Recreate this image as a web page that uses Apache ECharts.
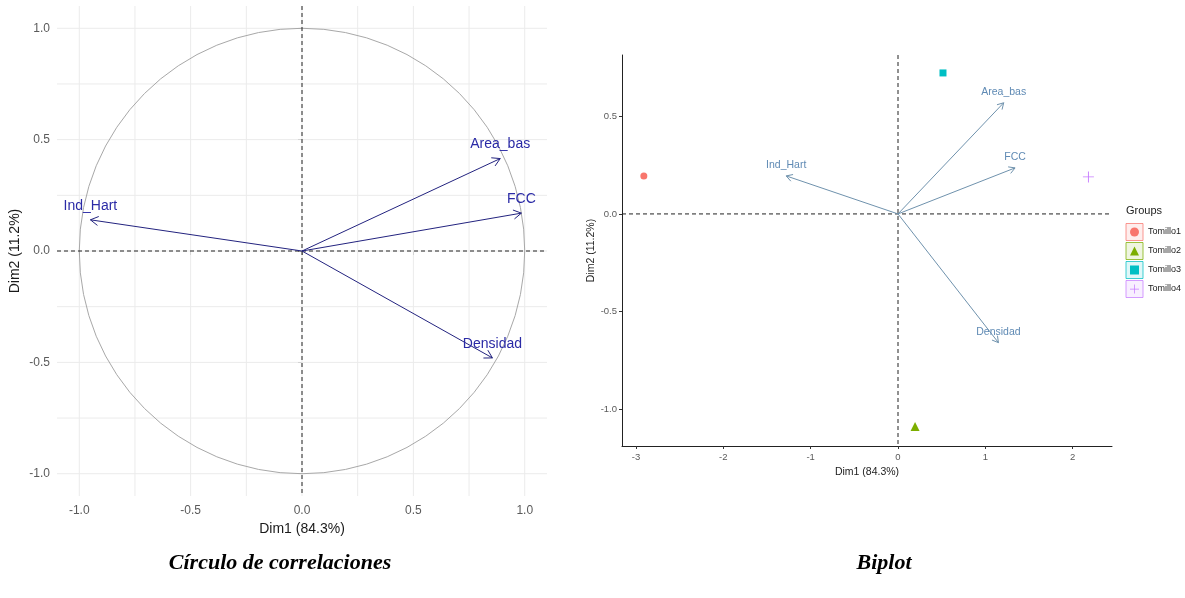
<!DOCTYPE html>
<html>
<head>
<meta charset="utf-8">
<script src="https://cdn.jsdelivr.net/npm/echarts@6/dist/echarts.min.js"></script>
<style>
  html, body { margin: 0; padding: 0; background: #fff; }
  #chart { width: 1185px; height: 598px; }
</style>
</head>
<body>
<div id="chart"></div>
<script>
// ---- Correlation circle data (PCA variable coordinates) ----
const varNames = ['Ind_Hart', 'Area_bas', 'FCC', 'Densidad'];
const corDim1 = [-0.95, 0.89, 0.985, 0.855];
const corDim2 = [0.14, 0.415, 0.17, -0.48];
const corGridValues = [-1, -0.75, -0.5, -0.25, 0, 0.25, 0.5, 0.75, 1];
const corTickValues = [-1, -0.5, 0, 0.5, 1];

// ---- Biplot data ----
const bipVarDim1 = [-1.28, 1.21, 1.34, 1.15];
const bipVarDim2 = [0.195, 0.57, 0.236, -0.66];
const groups = ['Tomillo1', 'Tomillo2', 'Tomillo3', 'Tomillo4'];
const groupDim1 = [-2.91, 0.195, 0.515, 2.18];
const groupDim2 = [0.195, -1.09, 0.723, 0.19];
const bipXTicks = [-3, -2, -1, 0, 1, 2];
const bipYTicks = [-1, -0.5, 0, 0.5];

const groupColors = ['#F8766D', '#7CAE00', '#00BFC4', '#C77CFF'];
const groupFills = ['rgba(248,118,109,0.16)', 'rgba(124,174,0,0.16)', 'rgba(0,191,196,0.16)', 'rgba(199,124,255,0.16)'];
const plusPath = 'path://M5.5,0h1v5.5h5.5v1h-5.5v5.5h-1v-5.5h-5.5v-1h5.5z';
const groupSymbols = ['circle', 'triangle', 'rect', plusPath];
const groupSizes = [7, 9, 7, 11];

const SANS = '"Liberation Sans", Arial, sans-serif';

// Legend layout
const LEG_LEFT = 1130, LEG_TOP = 222.5, LEG_ROW = 19, LEG_ICON = 9;

// Full-height / full-width reference lines drawn in the grid's coordinate system
function gridLineRenderer(vertical, color, dash) {
  return function (params, api) {
    const cs = params.coordSys;
    const p = api.coord([api.value(0), api.value(1)]);
    const shape = vertical
      ? { x1: p[0], y1: cs.y, x2: p[0], y2: cs.y + cs.height }
      : { x1: cs.x, y1: p[1], x2: cs.x + cs.width, y2: p[1] };
    return { type: 'line', shape, style: { stroke: color, lineWidth: 1, lineDash: dash || null } };
  };
}

// Variable arrows with open heads and labels above the tips
function arrowRenderer(names, headLen, labelOff, lineColor, textColor, fontSize) {
  return function (params, api) {
    const o = api.coord([0, 0]);
    const e = api.coord([api.value(0), api.value(1)]);
    const ang = Math.atan2(e[1] - o[1], e[0] - o[0]);
    const a1 = ang + Math.PI - Math.PI / 6;
    const a2 = ang + Math.PI + Math.PI / 6;
    return {
      type: 'group',
      children: [
        { type: 'line', shape: { x1: o[0], y1: o[1], x2: e[0], y2: e[1] },
          style: { stroke: lineColor, lineWidth: 1 } },
        { type: 'polyline',
          shape: { points: [
            [e[0] + headLen * Math.cos(a1), e[1] + headLen * Math.sin(a1)],
            [e[0], e[1]],
            [e[0] + headLen * Math.cos(a2), e[1] + headLen * Math.sin(a2)]
          ] },
          style: { stroke: lineColor, fill: 'none', lineWidth: 1 } },
        { type: 'text', x: e[0], y: e[1] - labelOff,
          style: { text: names[params.dataIndex], fill: textColor, fontSize: fontSize,
                   fontFamily: SANS, align: 'center', verticalAlign: 'middle' } }
      ]
    };
  };
}

const fmt1 = v => Number(v).toFixed(1);

const series = [
  // correlation circle: background grid
  { type: 'custom', xAxisIndex: 0, yAxisIndex: 0, z: 1, silent: true, clip: false,
    data: corGridValues.map(v => [v, 0]), renderItem: gridLineRenderer(true, '#ebebeb') },
  { type: 'custom', xAxisIndex: 0, yAxisIndex: 0, z: 1, silent: true, clip: false,
    data: corGridValues.map(v => [0, v]), renderItem: gridLineRenderer(false, '#ebebeb') },
  // unit circle
  { type: 'custom', xAxisIndex: 0, yAxisIndex: 0, z: 2, silent: true, clip: false,
    data: [[0, 0, 1]],
    renderItem: function (params, api) {
      const c = api.coord([api.value(0), api.value(1)]);
      const r = api.size([api.value(2), 0])[0];
      return { type: 'circle', shape: { cx: c[0], cy: c[1], r: r },
               style: { stroke: '#a8a8a8', fill: 'none', lineWidth: 1 } };
    } },
  // dashed axes through the origin
  { type: 'custom', xAxisIndex: 0, yAxisIndex: 0, z: 3, silent: true, clip: false,
    data: [[0, 0]], renderItem: gridLineRenderer(true, '#222', [4, 3]) },
  { type: 'custom', xAxisIndex: 0, yAxisIndex: 0, z: 3, silent: true, clip: false,
    data: [[0, 0]], renderItem: gridLineRenderer(false, '#222', [4, 3]) },
  // variable arrows
  { type: 'custom', xAxisIndex: 0, yAxisIndex: 0, z: 4, silent: true, clip: false,
    data: corDim1.map((x, i) => [x, corDim2[i]]),
    renderItem: arrowRenderer(varNames, 9, 14, '#23237f', '#2a2aa6', 14) },

  // biplot: dashed axes through the origin
  { type: 'custom', xAxisIndex: 1, yAxisIndex: 1, z: 3, silent: true, clip: false,
    data: [[0, 0]], renderItem: gridLineRenderer(true, '#222', [4, 3]) },
  { type: 'custom', xAxisIndex: 1, yAxisIndex: 1, z: 3, silent: true, clip: false,
    data: [[0, 0]], renderItem: gridLineRenderer(false, '#222', [4, 3]) },
  // biplot variable arrows
  { type: 'custom', xAxisIndex: 1, yAxisIndex: 1, z: 4, silent: true, clip: false,
    data: bipVarDim1.map((x, i) => [x, bipVarDim2[i]]),
    renderItem: arrowRenderer(varNames, 7, 11, '#6f92ad', '#5f8ab4', 10.5) }
];

// group centroids
groups.forEach((g, i) => {
  series.push({
    type: 'scatter', name: g, xAxisIndex: 1, yAxisIndex: 1, z: 5,
    symbol: groupSymbols[i], symbolSize: groupSizes[i],
    itemStyle: { color: groupColors[i], opacity: 1 },
    data: [[groupDim1[i], groupDim2[i]]]
  });
});

// legend key boxes behind legend symbols
const legendBoxes = groups.map((g, i) => {
  const cx = LEG_LEFT + LEG_ICON / 2;
  const cy = LEG_TOP + LEG_ROW / 2 + i * LEG_ROW;
  return { type: 'rect', z: 0, silent: true,
           shape: { x: cx - 8.5, y: cy - 8.5, width: 17, height: 17 },
           style: { fill: groupFills[i], stroke: groupColors[i], lineWidth: 1, opacity: 0.75 } };
});

const option = {
  backgroundColor: '#ffffff',
  animation: false,
  grid: [
    { left: 57, top: 6, width: 490, height: 490, containLabel: false },
    { left: 622, top: 55, width: 490, height: 391, containLabel: false }
  ],
  xAxis: [
    { type: 'value', gridIndex: 0, min: -1.1, max: 1.1,
      name: 'Dim1 (84.3%)', nameLocation: 'middle', nameGap: 21,
      nameTextStyle: { fontSize: 14, color: '#1a1a1a', fontFamily: SANS },
      axisLine: { show: false },
      axisTick: { show: true, length: 4, customValues: corTickValues, lineStyle: { color: '#444' } },
      axisLabel: { customValues: corTickValues, formatter: fmt1, margin: 9, fontSize: 12, color: '#5a5a5a', fontFamily: SANS },
      splitLine: { show: false } },
    { type: 'value', gridIndex: 1, min: -3.16, max: 2.45,
      name: 'Dim1 (84.3%)', nameLocation: 'middle', nameGap: 18,
      nameTextStyle: { fontSize: 10.5, color: '#222', fontFamily: SANS },
      axisLine: { show: true, onZero: false, lineStyle: { color: '#222', width: 1 } },
      axisTick: { show: true, length: 3, customValues: bipXTicks, lineStyle: { color: '#333' } },
      axisLabel: { customValues: bipXTicks, formatter: v => String(Math.round(v)), margin: 6, fontSize: 9.5, color: '#5a5a5a', fontFamily: SANS },
      splitLine: { show: false } }
  ],
  yAxis: [
    { type: 'value', gridIndex: 0, min: -1.1, max: 1.1,
      name: 'Dim2 (11.2%)', nameLocation: 'middle', nameGap: 35,
      nameTextStyle: { fontSize: 14, color: '#1a1a1a', fontFamily: SANS },
      axisLine: { show: false },
      axisTick: { show: true, length: 4, customValues: corTickValues, lineStyle: { color: '#444' } },
      axisLabel: { customValues: corTickValues, formatter: fmt1, margin: 7, fontSize: 12, color: '#5a5a5a', fontFamily: SANS },
      splitLine: { show: false } },
    { type: 'value', gridIndex: 1, min: -1.19, max: 0.815,
      name: 'Dim2 (11.2%)', nameLocation: 'middle', nameGap: 19,
      nameTextStyle: { fontSize: 10.5, color: '#222', fontFamily: SANS },
      axisLine: { show: true, onZero: false, lineStyle: { color: '#222', width: 1 } },
      axisTick: { show: true, length: 3, customValues: bipYTicks, lineStyle: { color: '#333' } },
      axisLabel: { customValues: bipYTicks, formatter: fmt1, margin: 5, fontSize: 9.5, color: '#5a5a5a', fontFamily: SANS },
      splitLine: { show: false } }
  ],
  legend: {
    orient: 'vertical', left: LEG_LEFT, top: LEG_TOP, padding: 0, itemGap: 0,
    itemWidth: LEG_ICON, itemHeight: LEG_ICON, selectedMode: false,
    textStyle: { fontSize: 9, color: '#222', lineHeight: LEG_ROW, padding: [0, 0, 0, 4], fontFamily: SANS },
    data: groups
  },
  graphic: [
    ...legendBoxes,
    { type: 'text', x: 1126, y: 211, silent: true,
      style: { text: 'Groups', fontSize: 11, fill: '#222', fontFamily: SANS, align: 'left', verticalAlign: 'middle' } },
    { type: 'text', x: 280, y: 563, silent: true,
      style: { text: 'Círculo de correlaciones', fontSize: 22, fontWeight: 'bold', fontStyle: 'italic',
               fill: '#000', fontFamily: '"Liberation Serif", "Times New Roman", serif', align: 'center', verticalAlign: 'middle' } },
    { type: 'text', x: 884, y: 563, silent: true,
      style: { text: 'Biplot', fontSize: 22, fontWeight: 'bold', fontStyle: 'italic',
               fill: '#000', fontFamily: '"Liberation Serif", "Times New Roman", serif', align: 'center', verticalAlign: 'middle' } }
  ],
  series: series
};

const chart = echarts.init(document.getElementById('chart'), null, { renderer: 'canvas' });
chart.setOption(option);
</script>
</body>
</html>
